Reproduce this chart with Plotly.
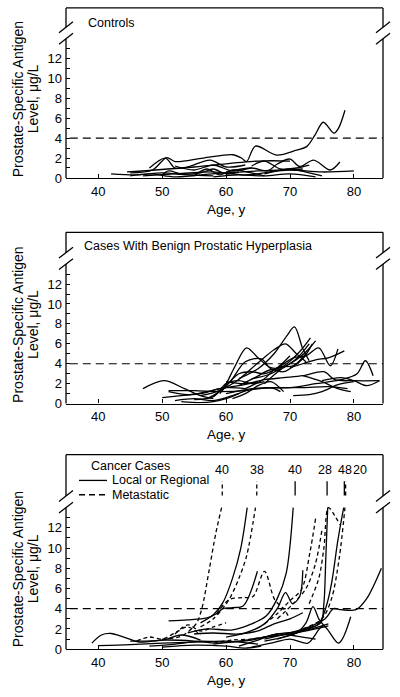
import plotly.graph_objects as go

# ---------------- data ----------------
AGE_TICKS = [40, 50, 60, 70, 80]
PSA_TICKS = [0, 2, 4, 6, 8, 10, 12]
PSA_MINOR = [1, 3, 5, 7, 9, 11, 13]
PSA_THRESHOLD = 4

PANEL_TITLES = ["Controls", "Cases With Benign Prostatic Hyperplasia", "Cancer Cases"]

ctrl_ages = [
    [42, 46, 50, 54, 58],
    [45, 48.5, 50.7, 52, 56.4, 61.1, 62.4, 63.2, 64.6, 67.9, 71.0, 72.6, 73.9, 75.2, 76.9, 77.6, 78.6],
    [48, 50.5, 52, 54, 57.5, 60, 63],
    [60, 64, 66.5, 68, 70, 71.5, 73.7, 76.3, 77.8],
    [44.5, 55, 65, 70],
    [50, 51, 53, 56, 58, 60, 62],
    [55, 57, 59, 61, 64, 66],
    [56, 60, 65, 70, 75, 80],
    [47, 52, 58, 63, 68, 72],
    [52, 55, 58, 61, 64],
    [58, 62, 66, 70, 74],
    [64, 66, 68.5, 71, 73],
    [45, 48, 52, 56],
    [66, 70, 73, 75],
]
ctrl_psa = [
    [0.4, 0.3, 0.5, 0.3, 0.2],
    [0.5, 0.8, 2.05, 1.65, 2.0, 2.33, 2.0, 1.65, 3.2, 2.3, 2.8, 3.15, 4.3, 5.6, 4.5, 5.0, 6.8],
    [1.0, 2.0, 1.0, 1.1, 1.8, 1.1, 1.3],
    [0.6, 1.0, 0.7, 1.4, 1.9, 1.15, 1.8, 0.8, 1.6],
    [0.6, 1.1, 1.7, 1.7],
    [0.3, 0.7, 0.4, 0.5, 0.9, 0.4, 0.6],
    [0.2, 0.9, 0.3, 0.8, 0.5, 0.2],
    [0.3, 0.5, 0.7, 0.8, 0.6, 0.7],
    [0.2, 0.4, 0.6, 0.3, 0.7, 0.9],
    [1.2, 0.8, 1.3, 0.7, 1.0],
    [0.1, 0.3, 0.2, 0.4, 0.1],
    [1.2, 1.7, 0.9, 1.0, 1.3],
    [0.2, 0.4, 0.1, 0.3],
    [0.4, 0.9, 0.5, 0.2],
]

bph_ages = [
    [47, 50.3, 53.5, 56, 58],
    [62, 65, 67.5, 69.5, 70.7, 72, 73],
    [57, 59.5, 61.2, 63.2, 65, 67, 69, 71, 73],
    [56, 58.5, 61.5, 65, 67.5, 69.3, 71, 72.5],
    [64, 67, 69.5, 71.5, 73.2],
    [66, 68.5, 71, 72.5, 74],
    [68, 70.5, 72.5, 74.5, 76.3, 77.5],
    [70, 72, 74, 76, 78.5],
    [59, 61, 63, 65.5, 67, 68.5],
    [60, 63, 66, 69, 72, 75.3, 77, 80, 84],
    [66, 70, 74, 78, 80.5, 81.8, 83],
    [75, 78, 80, 82, 84],
    [70.5, 73, 75, 77.5, 80],
    [72, 75, 77.5, 79.5],
    [50, 53, 56, 59, 62, 65],
    [51, 54, 57, 60, 63],
    [52, 55, 58, 61, 63.5],
    [53, 56, 58, 60, 62],
    [55, 58, 60, 62, 64, 66],
    [51, 55, 59, 63, 67, 68.5],
    [60, 64, 68, 72, 76, 79],
    [63, 66, 68, 70.5, 72, 73.5],
    [61, 63, 65, 67, 69],
    [58, 60, 62, 64, 66, 68, 70],
    [62, 64.5, 67, 69, 71, 72.5],
]
bph_psa = [
    [1.5, 2.3, 1.5, 0.8, 0.5],
    [2.5, 3.5, 5.0, 6.8, 7.7, 5.5, 4.3],
    [0.5, 1.5, 3.5, 5.6, 4.6, 3.6, 3.7, 4.5, 6.0],
    [0.8, 1.2, 2.2, 4.1, 5.4, 6.0, 5.0, 4.2],
    [2.5, 3.0, 4.0, 5.2, 6.6],
    [2.0, 3.4, 4.4, 5.2, 6.3],
    [3.5, 4.6, 4.8, 5.6, 3.8, 5.5],
    [3.6, 4.0, 4.4, 4.6, 5.3],
    [1.0, 2.5, 4.2, 4.5, 3.5, 3.4],
    [2.2, 2.0, 2.4, 2.6, 2.8, 3.2, 2.4, 2.3, 2.3],
    [1.6, 1.6, 2.0, 2.4, 3.0, 4.3, 2.8],
    [2.3, 2.6, 2.3, 1.8, 2.3],
    [0.8, 0.9, 1.2, 1.9, 2.2],
    [2.8, 2.2, 1.5, 1.2],
    [0.6, 0.8, 1.0, 1.5, 1.8, 2.2],
    [1.2, 0.9, 1.2, 1.6, 1.5],
    [0.3, 0.5, 0.3, 0.8, 1.4],
    [0.2, 0.1, 0.2, 0.5, 1.0],
    [0.4, 0.7, 2.0, 2.3, 2.0, 2.2],
    [1.3, 1.3, 1.2, 1.3, 1.6, 1.2],
    [1.0, 1.5, 1.6, 1.6, 1.7, 1.5],
    [1.5, 2.5, 3.6, 3.8, 4.5, 6.0],
    [0.5, 1.0, 1.8, 2.2, 1.2],
    [0.7, 1.8, 3.0, 3.2, 3.0, 3.6, 4.8],
    [1.8, 2.6, 3.4, 3.2, 4.0, 5.0],
]

cancer_ages = [
    [56, 58, 59.5, 61, 62.3, 63.3],
    [51, 54, 57, 58.5, 59.5, 61, 62.7, 64.9],
    [54, 57, 61, 64, 66.3, 68, 69.4, 70.5],
    [60, 63, 66, 68, 69.3, 70.4, 71.5, 72],
    [70, 73, 74.8, 75.3, 75.6, 75.9],
    [68, 72, 74.5, 75.7, 76.5, 77.5, 78.4],
    [66, 70, 73, 75.5, 76.8, 78, 80.3, 82, 84.3],
    [66, 69, 71, 72.5, 73.6, 74.5, 75.5],
    [64, 67, 70, 72.8, 75.2, 77.6, 79.5],
    [39, 40.5, 42, 44, 46.5, 50, 55, 58],
    [40, 45, 50, 55, 60, 65],
    [55, 58, 62, 65, 67.5, 70, 72],
    [48, 52, 56, 60, 64, 68, 72, 76],
    [58, 62, 66, 70, 74, 76],
    [50, 55, 60, 63, 65.5],
    [62, 65, 68, 71, 74],
    [45, 50, 53, 56],
    [50, 53, 55.3, 56.2, 57.4, 58.4, 59.3],
    [56, 58, 59.8, 60.8, 62, 63.2, 64.6],
    [58.5, 60.5, 62.6, 64.2, 66, 67.6, 69, 70],
    [66, 68, 70, 71.8, 73.1, 74],
    [68, 70.5, 72.5, 74, 75],
    [73, 74.5, 75.3, 76.0, 77.0, 77.8],
    [72, 75, 76.5, 77.7, 78.6],
    [46, 48, 50, 52, 54, 56],
    [52, 54, 56, 58, 60],
    [58, 61, 64, 66],
]
cancer_psa = [
    [2.6, 3.4, 4.6, 7.0, 10.0, 14.0],
    [2.8, 2.9, 3.1, 3.5, 4.0, 4.1, 4.3, 7.7],
    [1.6, 2.0, 1.9, 2.5, 3.3, 5.0, 7.5, 14.0],
    [1.2, 1.6, 2.5, 4.0, 5.6, 4.5, 5.2, 7.8],
    [1.4, 2.1, 2.6, 4.5, 9.0, 14.0],
    [1.0, 1.8, 2.5, 4.3, 6.5, 10.8, 14.0],
    [1.0, 1.6, 2.2, 3.0, 4.0, 3.9, 3.9, 5.0, 8.0],
    [0.8, 1.2, 1.6, 2.6, 4.2, 3.0, 2.2],
    [0.2, 0.6, 1.0, 0.6, 2.3, 0.6, 3.2],
    [0.6, 1.4, 1.55, 1.2, 0.7, 0.9, 0.8, 0.6],
    [0.35, 0.45, 0.6, 0.7, 0.8, 0.5],
    [1.5, 1.6, 1.5, 1.8, 2.5, 3.0, 3.6],
    [0.3, 0.5, 0.8, 0.7, 0.9, 1.5, 1.8, 2.5],
    [0.5, 0.8, 1.2, 1.5, 2.0, 2.3],
    [0.2, 0.4, 0.3, 0.1, 0.3],
    [0.3, 0.9, 1.5, 1.3, 1.0],
    [0.8, 0.9, 1.4, 0.9],
    [1.0, 1.3, 2.5, 4.0, 8.0, 11.5, 14.0],
    [2.2, 3.0, 4.3, 5.3, 7.0, 9.2, 14.0],
    [3.5, 4.9, 5.1, 5.2, 7.7, 4.9, 4.0, 3.0],
    [2.5, 3.5, 4.8, 5.9, 9.5, 12.9],
    [3.0, 4.5, 6.0, 8.5, 11.8],
    [4.5, 7.0, 10.0, 14.0, 13.2, 12.3],
    [2.0, 3.0, 5.0, 9.0, 14.0],
    [0.8, 1.2, 1.0, 1.6, 2.2, 1.4],
    [1.5, 2.4, 1.8, 2.2, 2.6],
    [0.6, 0.9, 1.0, 1.2],
]
cancer_stage = ["local"] * 17 + ["metastatic"] * 10

# off-scale peak values of cancer cases (drawn above the axis break)
peak_ages = [59.4, 64.8, 70.8, 75.8, 78.5, 78.7]
peak_values = [40, 38, 40, 28, 48, 20]
peak_stage = ["metastatic", "metastatic", "local", "local", "local", "metastatic"]

# ---------------- layout constants ----------------
W, H = 400, 697
X_DOM = [66 / W, 383 / W]
X_RANGE = [34.95, 84.55]
# (top px, bottom px, px per unit)
PANEL_PX = [(8, 180, 10.06), (235, 408.3, 10.08), (460, 656.7, 10.23)]
BREAK_LO, BREAK_HI = 14.0, 15.15
FONT = "Liberation Sans, Arial, sans-serif"
LW = 1.3
DASH_CURVE = "4px,3px"

fig = go.Figure()
shapes = []
annotations = []


def sx(i):
    return "" if i == 1 else str(i)


def text(x, y, s, size, xref="paper", yref="paper", xanchor="center", angle=0, xshift=0):
    annotations.append(dict(xref=xref, yref=yref, x=x, y=y, text=s, showarrow=False,
                            xanchor=xanchor, yanchor="middle", textangle=angle, xshift=xshift,
                            borderpad=0, font=dict(family=FONT, size=size, color="black")))


for i, (tpx, bpx, ppu) in enumerate(PANEL_PX, start=1):
    top = (bpx - tpx) / ppu
    dom = [(H - bpx) / H, (H - tpx) / H]
    fig.layout["xaxis" + sx(i)] = dict(
        domain=X_DOM, range=X_RANGE, anchor="y" + sx(i),
        tickmode="array", tickvals=AGE_TICKS, ticks="inside", ticklen=4, tickwidth=1.2,
        tickcolor="black", showline=True, linecolor="black", linewidth=LW,
        showgrid=False, zeroline=False, tickfont=dict(family=FONT, size=13, color="black"),
        ticklabelstandoff=1, fixedrange=True,
    )
    fig.layout["yaxis" + sx(i)] = dict(
        domain=dom, range=[0, top], anchor="x" + sx(i),
        tickmode="array", tickvals=PSA_TICKS, ticks="inside", ticklen=4, tickwidth=1.2,
        tickcolor="black", showline=False, showgrid=False, zeroline=False,
        minor=dict(tickvals=PSA_MINOR, ticks="inside", ticklen=4, tickwidth=1.2, tickcolor="black"),
        tickfont=dict(family=FONT, size=13, color="black"), ticklabelstandoff=3,
        fixedrange=True,
    )
    xr, yr = "x" + sx(i) + " domain", "y" + sx(i) + " domain"
    line = dict(color="black", width=LW)
    lo, hi = BREAK_LO / top, BREAK_HI / top
    # frame with axis breaks
    shapes.append(dict(type="line", xref=xr, yref=yr, x0=0, x1=1, y0=1, y1=1, line=line))
    for xs in (0, 1):
        shapes.append(dict(type="line", xref=xr, yref=yr, x0=xs, x1=xs, y0=0, y1=lo, line=line))
        shapes.append(dict(type="line", xref=xr, yref=yr, x0=xs, x1=xs, y0=hi, y1=1, line=line))
        for c in (lo, hi):
            dxs = 7 / (X_DOM[1] - X_DOM[0]) / W
            dys = 5.5 / (bpx - tpx)
            shapes.append(dict(type="line", xref=xr, yref=yr, x0=xs - dxs, x1=xs + dxs,
                               y0=c - dys, y1=c + dys, line=line))
    # 4 ug/L reference line
    shapes.append(dict(type="line", xref=xr, yref=yr, x0=0.012, x1=1,
                       y0=PSA_THRESHOLD / top, y1=PSA_THRESHOLD / top,
                       line=dict(color="black", width=1.2, dash="8px,5px")))
    # y-axis title (two lines)
    text(18 / W, 7.9, "Prostate-Specific Antigen", 14, yref="y" + sx(i), angle=-90)
    text(33 / W, 7.9, "Level, μg/L", 14, yref="y" + sx(i), angle=-90)
    # x-axis title
    text(60, (H - (bpx + 31.5)) / H, "Age, y", 13.5, xref="x" + sx(i))


def add_curves(ages, psa, i, styles=None):
    for k, (a, p) in enumerate(zip(ages, psa)):
        dash = "solid"
        if styles is not None and styles[k] == "metastatic":
            dash = DASH_CURVE
        fig.add_trace(go.Scatter(
            x=a, y=p, mode="lines", xaxis="x" + sx(i), yaxis="y" + sx(i),
            line=dict(color="black", width=LW, shape="spline", smoothing=0.9, dash=dash),
            showlegend=False, hoverinfo="skip"))


add_curves(ctrl_ages, ctrl_psa, 1)
add_curves(bph_ages, bph_psa, 2)
add_curves(cancer_ages, cancer_psa, 3, cancer_stage)

# segments above the break for off-scale peaks, with their values
label_shift = [0, 0, 0, -2, 1, 14]
for a, v, st, sh in zip(peak_ages, peak_values, peak_stage, label_shift):
    fig.add_trace(go.Scatter(
        x=[a, a], y=[BREAK_HI + 0.05, BREAK_HI + 1.45], mode="lines", xaxis="x3", yaxis="y3",
        line=dict(color="black", width=LW, dash=DASH_CURVE if st == "metastatic" else "solid"),
        showlegend=False, hoverinfo="skip"))
    text(a, 17.7, str(v), 12.5, xref="x3", yref="y3", xshift=sh)

# panel titles
text(87 / W, (H - 23) / H, PANEL_TITLES[0], 12.5, xanchor="left")
text(83 / W, (H - 249) / H, PANEL_TITLES[1], 12.5, xanchor="left")
text(90 / W, (H - 471.5) / H, PANEL_TITLES[2], 12.5, xanchor="left")
# legend
for j, (lab, dash) in enumerate([("Local or Regional", "solid"), ("Metastatic", "6px,4px")]):
    ypx = 486 + 14.5 * j
    shapes.append(dict(type="line", xref="paper", yref="paper", x0=79 / W, x1=107 / W,
                       y0=(H - ypx) / H, y1=(H - ypx) / H,
                       line=dict(color="black", width=LW, dash=dash)))
    text(111 / W, (H - ypx) / H, lab, 12.5, xanchor="left")

fig.update_layout(
    width=W, height=H, margin=dict(l=0, r=0, t=0, b=0),
    paper_bgcolor="white", plot_bgcolor="white",
    shapes=shapes, annotations=annotations, showlegend=False,
    font=dict(family=FONT, color="black"),
)

fig.write_html("out.html", config={"displayModeBar": False},
               post_script="document.body.style.margin='0px';document.body.style.overflow='hidden';")
